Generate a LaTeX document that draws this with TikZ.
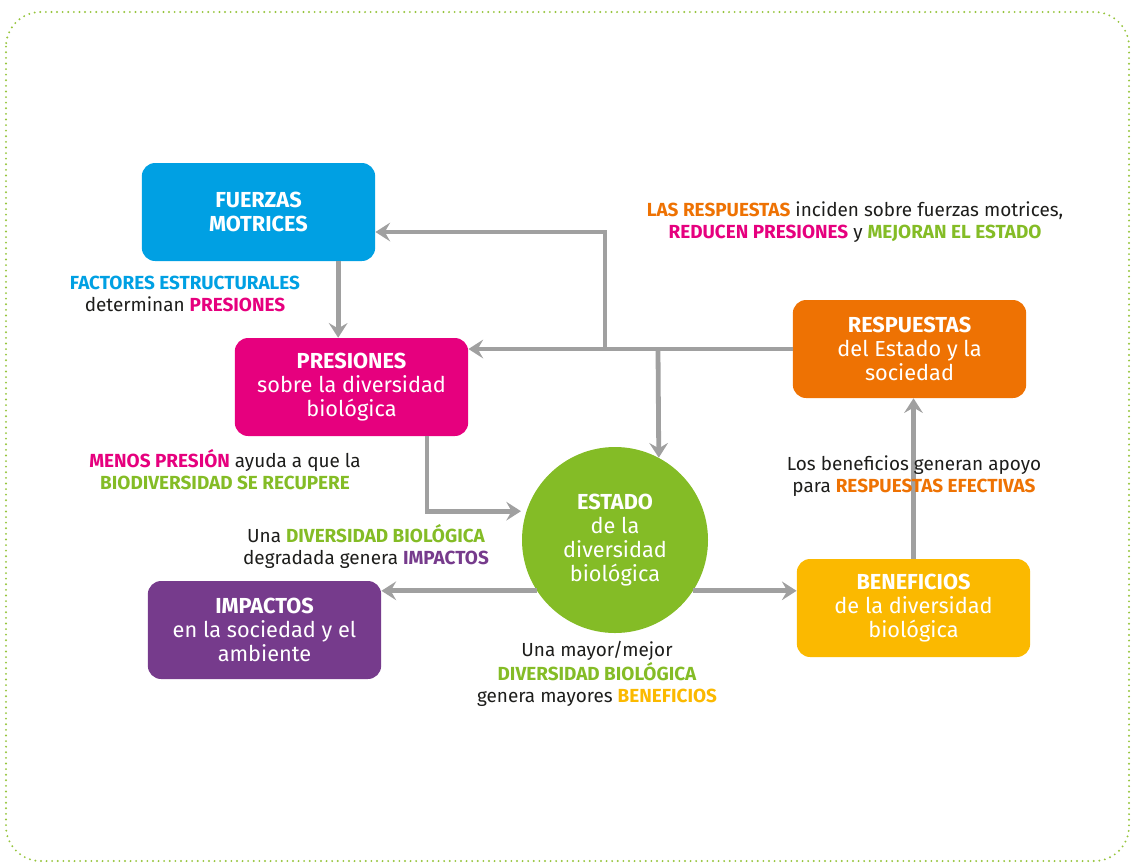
\documentclass[tikz,border=0pt]{standalone}
\usepackage{fontspec}
\setmainfont{Fira Sans}
\usetikzlibrary{arrows.meta,positioning}
\definecolor{fmblue}{RGB}{0,160,227}
\definecolor{prmagenta}{RGB}{230,0,126}
\definecolor{rsorange}{RGB}{238,114,3}
\definecolor{bnyellow}{RGB}{251,185,0}
\definecolor{impurple}{RGB}{118,59,140}
\definecolor{esgreen}{RGB}{132,188,38}
\definecolor{dotgreen}{RGB}{150,196,60}
\definecolor{arrgray}{RGB}{160,160,160}
\definecolor{txtgray}{RGB}{29,29,27}

\begin{document}
\begin{tikzpicture}[x=0.75pt,y=-0.75pt,
    box/.style={rectangle, rounded corners=10pt, minimum width=175pt, minimum height=73.5pt, align=center, text=white, font=\fontsize{16.3}{18}\selectfont, inner sep=2pt},
    arr/.style={draw=arrgray, line width=3.6pt, -{Stealth[length=11pt,width=14pt,inset=4pt]}},
    lbl/.style={align=center, text=txtgray, font=\fontsize{14.2}{16.5}\selectfont}
  ]
    \useasboundingbox (0,0) rectangle (1134,865);
    \draw[dotgreen, line width=1.6pt, line cap=round, dash pattern=on 0pt off 4.2pt, rounded corners=26pt] (6,12) rectangle (1129,861);

    % boxes
    \node[box, fill=fmblue] (fuerzas) at (258.5,212) {\textbf{FUERZAS}\\\textbf{MOTRICES}};
    \node[box, fill=prmagenta] (presiones) at (351.5,387) {\textbf{PRESIONES}\\sobre la diversidad\\biológica};
    \node[box, fill=rsorange] (respuestas) at (909.5,349) {\textbf{RESPUESTAS}\\del Estado y la\\sociedad};
    \node[box, fill=bnyellow] (beneficios) at (913.5,608) {\textbf{BENEFICIOS}\\de la diversidad\\biológica};
    \node[box, fill=impurple] (impactos) at (264.5,630) {\textbf{IMPACTOS}\\en la sociedad y el\\ambiente};
    \node[circle, fill=esgreen, minimum size=139.5pt, align=center, text=white, font=\fontsize{16.3}{18}\selectfont] (estado) at (615,540) {\textbf{ESTADO}\\de la\\diversidad\\biológica};

    % connectors
    \coordinate (jA) at (605,350);
    \coordinate (jB) at (658,350);
    \coordinate (tF) at ([yshift=-15pt]fuerzas.east);
    \draw[arr] ([xshift=-10pt]presiones.north |- fuerzas.south) -- ([xshift=-10pt]presiones.north);
    \draw[arr] (respuestas.west) -- (respuestas.west -| presiones.east);
    \draw[arr] (jA) |- (tF);
    \draw[arr] (jB) -- (estado.62.5);
    \draw[arr] ([xshift=56.6pt]presiones.south) |- ([xshift=-4pt]estado.162.5);
    \draw[arr] (estado.213.2) -- (estado.213.2 -| impactos.east);
    \draw[arr] (estado.-33.2) -- (estado.-33.2 -| beneficios.west);
    \draw[arr] (beneficios.north) -- (beneficios.north |- respuestas.south);

    % labels
    \node[lbl] (lfact) at (185,294) {\textbf{\color{fmblue}FACTORES ESTRUCTURALES}\\determinan \textbf{\color{prmagenta}PRESIONES}};
    \node[lbl] (lmenos) at (225,470) {\textbf{\color{prmagenta}MENOS PRESIÓN} ayuda a que la\\\textbf{\color{esgreen}BIODIVERSIDAD SE RECUPERE}};
    \node[lbl] (ldegr) at (366,546) {Una \textbf{\color{esgreen}DIVERSIDAD BIOLÓGICA}\\degradada genera \textbf{\color{impurple}IMPACTOS}};
    \node[lbl] (lresp) at (855,222) {\textbf{\color{rsorange}LAS RESPUESTAS} inciden sobre fuerzas motrices,\\\textbf{\color{prmagenta}REDUCEN PRESIONES} y \textbf{\color{esgreen}MEJORAN EL ESTADO}};
    \node[lbl] (lbenef) at (914,476) {Los beneficios generan apoyo\\para \textbf{\color{rsorange}RESPUESTAS EFECTIVAS}};
    \node[lbl] (lmayor) at (597,674) {Una mayor/mejor\\\textbf{\color{esgreen}DIVERSIDAD BIOLÓGICA}\\genera mayores \textbf{\color{bnyellow}BENEFICIOS}};
  \end{tikzpicture}
\end{document}
